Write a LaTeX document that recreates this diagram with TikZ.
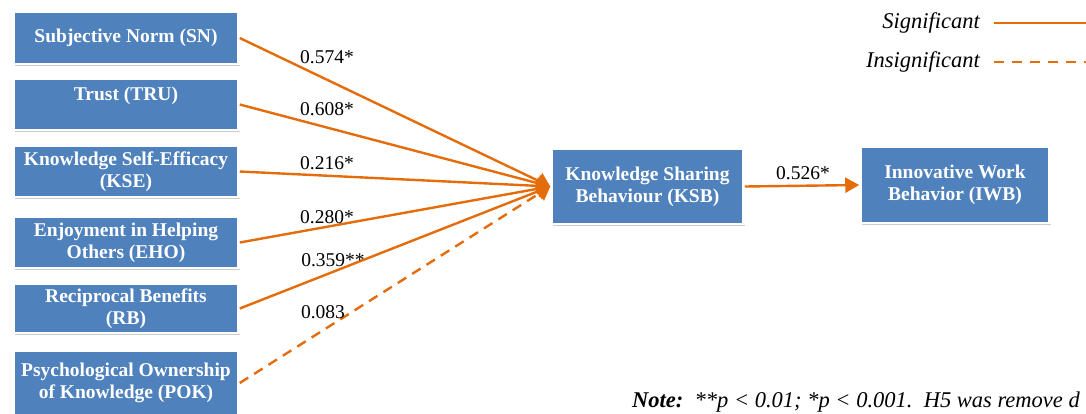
\documentclass[tikz,border=0pt]{standalone}
\usepackage{fontspec}
\setmainfont{Liberation Serif}
\usetikzlibrary{arrows.meta,shadows}
\definecolor{boxblue}{RGB}{79,129,189}
\definecolor{orng}{RGB}{228,108,10}
\begin{document}
\begin{tikzpicture}[x=1pt,y=-1pt,
  box/.style={fill=boxblue, draw=white, line width=2.5pt, text=white,
    font=\bfseries\fontsize{19.5}{22}\selectfont, align=center, inner sep=0pt,
    minimum width=225pt,
    drop shadow={shadow xshift=1pt, shadow yshift=-1.5pt, opacity=0.2, fill=black}},
  sig/.style={draw=orng, line width=2.4pt, -{Triangle[length=13pt,width=17pt]}},
  ins/.style={sig, dash pattern=on 10pt off 7pt},
  coef/.style={font=\fontsize{19.5}{22}\selectfont, inner sep=0pt},
  legend/.style={font=\itshape\fontsize{22.5}{24}\selectfont, inner sep=0pt, anchor=east},
]
\useasboundingbox (0,0) rectangle (1086,413);
\clip (0,0) rectangle (1086,413);
% predictor boxes
\node[box, minimum height=52pt] (sn)  at (126,38)    {Subjective Norm (SN)};
\node[box, minimum height=51pt] (tru) at (126,104.5) {Trust (TRU)\\\mbox{}};
\node[box, minimum height=51pt] (kse) at (126,171.5) {Knowledge Self-Efficacy\\(KSE)};
\node[box, minimum height=51pt] (eho) at (126,242.5) {Enjoyment in Helping\\Others (EHO)};
\node[box, minimum height=49pt] (rb)  at (126,308.5) {Reciprocal Benefits\\(RB)};
\node[box, minimum height=64pt] (pok) at (126,383)   {Psychological Ownership\\of Knowledge (POK)};
% outcome boxes
\node[box, minimum width=192pt, minimum height=75pt] (ksb) at (647.5,186.5) {Knowledge Sharing\\Behaviour (KSB)};
\node[box, minimum width=189pt, minimum height=76pt] (iwb) at (955,185) {Innovative Work\\Behavior (IWB)};
% paths
\draw[sig] (sn.east)  -- (ksb.west);
\draw[sig] (tru.east) -- (ksb.west);
\draw[sig] (kse.east) -- (ksb.west);
\draw[sig] (eho.east) -- (ksb.west);
\draw[sig] (rb.east)  -- (ksb.west);
\draw[ins] (pok.east) -- (ksb.west);
\draw[draw=orng, line width=2.4pt, -{Triangle[length=14pt,width=15pt]}] (ksb.east) -- (iwb.west);
% coefficients
\node[coef] (c1) at (327,57)  {0.574*};
\node[coef] (c2) at (327,109) {0.608*};
\node[coef] (c3) at (327,163) {0.216*};
\node[coef] (c4) at (327,217) {0.280*};
\node[coef] (c5) at (333,260) {0.359**};
\node[coef] (c6) at (323,312) {0.083};
\node[coef] (c7) at (803,173) {0.526*};
% legend
\node[legend] (lsig) at (980,23) {Significant};
\node[legend] (lins) at (980,62) {Insignificant};
\coordinate (s1) at (994,23);
\coordinate (s2) at (1086,23);
\coordinate (d1) at (994,62);
\coordinate (d2) at (1086,62);
\draw[draw=orng, line width=2.4pt] (s1) -- (s2);
\draw[draw=orng, line width=2.4pt, dash pattern=on 10pt off 8pt] (d1) -- (d2);
% note
\node[font=\itshape\fontsize{22.5}{24}\selectfont, inner sep=0pt, anchor=west] (note) at (632,402)
  {\textbf{Note:}\ \ **p < 0.01; *p < 0.001.\ \ H5 was remove d};
\end{tikzpicture}
\end{document}
